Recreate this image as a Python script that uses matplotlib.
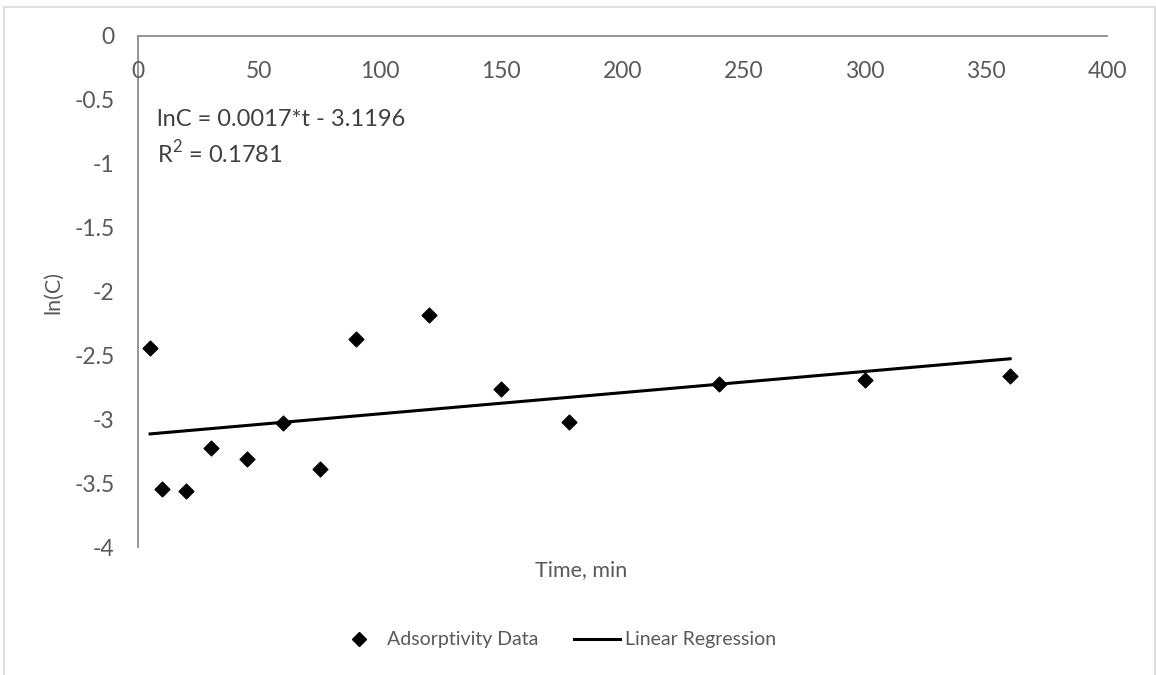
import numpy as np
import matplotlib
matplotlib.use('Agg')
import matplotlib.pyplot as plt
from matplotlib.lines import Line2D
from matplotlib.patches import Rectangle
from matplotlib.transforms import ScaledTranslation

# Data
time_min = [5, 10, 20, 30, 45, 60, 75, 90, 120, 150, 178, 240, 300, 360]
ln_c = [-2.445, -3.546, -3.559, -3.225, -3.314, -3.032, -3.392, -2.372,
        -2.184, -2.763, -3.024, -2.726, -2.693, -2.659]

x_ticks = [0, 50, 100, 150, 200, 250, 300, 350, 400]
y_ticks = [0, -0.5, -1, -1.5, -2, -2.5, -3, -3.5, -4]
y_tick_labels = ['0', '-0.5', '-1', '-1.5', '-2', '-2.5', '-3', '-3.5', '-4']

eq_text = 'lnC = 0.0017*t - 3.1196'
r2_text = 'R$^2$ = 0.1781'

plt.rcParams['font.family'] = ['Lato', 'DejaVu Sans']
plt.rcParams['mathtext.fontset'] = 'custom'
plt.rcParams['mathtext.rm'] = 'Lato'
text_color = '#595959'
axis_color = '#8c8c8c'
W, H = 1156, 675
tick_fs = 16.5

fig = plt.figure(figsize=(W / 100, H / 100), dpi=100)
ax = fig.add_axes([138 / W, 1 - 547 / H, (1107 - 138) / W, (547 - 36) / H])

# outer chart frame (cut off at the bottom in the reference)
fig.patches.append(Rectangle((4 / W, -0.1), (1155 - 4) / W, 1.1 - 7 / H,
                             transform=fig.transFigure, fill=False,
                             edgecolor='#d9d9d9', linewidth=1.2))

ax.scatter(time_min, ln_c, marker='D', s=7.5 ** 2, color='black', zorder=3)

slope, intercept = np.polyfit(time_min, ln_c, 1)
t_fit = np.array([min(time_min), max(time_min)])
ax.plot(t_fit, slope * t_fit + intercept, color='black', linewidth=2.2, zorder=2)

ax.set_xlim(0, 400)
ax.set_ylim(-4, 0)
ax.set_xticks(x_ticks)
ax.set_xticklabels([])
ax.set_yticks(y_ticks)
ax.set_yticklabels(y_tick_labels)

for s in ['right', 'bottom']:
    ax.spines[s].set_visible(False)
for s in ['top', 'left']:
    ax.spines[s].set_color(axis_color)
    ax.spines[s].set_linewidth(1.3)

ax.tick_params(axis='x', length=0)
ax.tick_params(axis='y', length=0, labelsize=tick_fs, colors=text_color, pad=17)

# x labels sit just below the top axis line (axis crosses at 0)
shift = ax.get_xaxis_transform() + ScaledTranslation(0, -0.25, fig.dpi_scale_trans)
for t in x_ticks:
    ax.text(t, 1, str(t), transform=shift, ha='center', va='top',
            fontsize=tick_fs, color=text_color)

fig.text(157 / W, 1 - 120 / H, eq_text, fontsize=17, color='#404040',
         ha='left', va='center')
fig.text(157 / W, 1 - 153 / H, r2_text, fontsize=17, color='#404040',
         ha='left', va='center')

fig.text(581 / W, 1 - 570 / H, 'Time, min', fontsize=15.5, color=text_color,
         ha='center', va='center')
fig.text(53 / W, 1 - 292 / H, 'ln(C)', fontsize=15.5, color=text_color,
         ha='center', va='center', rotation=90)

handles = [Line2D([], [], marker='D', linestyle='none', color='black', markersize=7.5),
           Line2D([], [], color='black', linewidth=2.2)]
fig.legend(handles, ['Adsorptivity Data', 'Linear Regression'], loc='center',
           bbox_to_anchor=(556 / W, 1 - 640 / H), ncol=2, frameon=False,
           fontsize=14, labelcolor=text_color, handlelength=2.4,
           handletextpad=0.25, columnspacing=1.8)

fig.savefig('out.png', dpi=100)
